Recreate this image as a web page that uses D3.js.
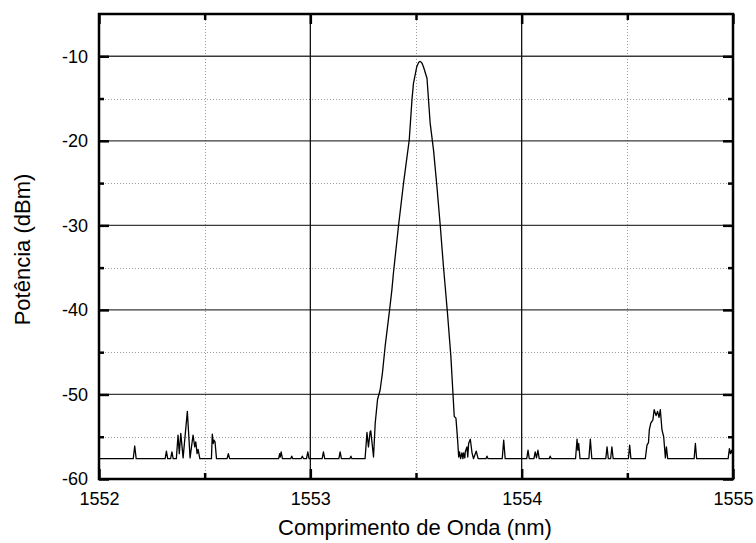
<!DOCTYPE html>
<html>
<head>
<meta charset="utf-8">
<script src="https://cdn.jsdelivr.net/npm/d3@7"></script>
<style>
  html, body { margin: 0; padding: 0; background: #fff; }
  svg { display: block; font-family: "Liberation Sans", Arial, sans-serif; }
</style>
</head>
<body>
<svg id="chart" width="756" height="543"></svg>
<script>
// ---- Data ----
const xTickValues = [1552, 1553, 1554, 1555];
const xMinorTicks = [1552.5, 1553.5, 1554.5];
const yTickValues = [-60, -50, -40, -30, -20, -10];
const yMinorTicks = [-55, -45, -35, -25, -15];
const xLabel = "Comprimento de Onda (nm)";
const yLabel = "Potência (dBm)";

const wavelength = [
  1552.000, 1552.162, 1552.169, 1552.176,
  1552.313, 1552.319, 1552.325, 1552.339, 1552.345, 1552.351,
  1552.366, 1552.374, 1552.380, 1552.387, 1552.398, 1552.418, 1552.431, 1552.445, 1552.453, 1552.458, 1552.464, 1552.469, 1552.477,
  1552.532, 1552.536, 1552.541, 1552.544, 1552.549, 1552.556,
  1552.606, 1552.612, 1552.618,
  1552.850, 1552.855, 1552.858, 1552.862, 1552.868,
  1552.907, 1552.912, 1552.917,
  1552.956, 1552.962, 1552.968, 1552.982, 1552.988, 1552.994,
  1553.056, 1553.062, 1553.068,
  1553.135, 1553.141, 1553.147,
  1553.187, 1553.192, 1553.197,
  1553.259, 1553.268, 1553.275, 1553.283, 1553.286, 1553.299,
  1553.307, 1553.318, 1553.330, 1553.341, 1553.354, 1553.375, 1553.386, 1553.393, 1553.417, 1553.441,
  1553.468, 1553.481, 1553.488, 1553.504, 1553.513, 1553.520, 1553.528, 1553.536, 1553.552, 1553.567,
  1553.583, 1553.599, 1553.615, 1553.630, 1553.649, 1553.665, 1553.681, 1553.689, 1553.697, 1553.702,
  1553.706, 1553.711, 1553.717, 1553.722, 1553.725, 1553.731, 1553.733, 1553.741, 1553.745, 1553.749,
  1553.757, 1553.765, 1553.772, 1553.785, 1553.794,
  1553.831, 1553.836, 1553.841,
  1553.908, 1553.915, 1553.922,
  1554.024, 1554.030, 1554.036,
  1554.058, 1554.064, 1554.070, 1554.077, 1554.083,
  1554.130, 1554.135, 1554.140,
  1554.255, 1554.262, 1554.266, 1554.270, 1554.276,
  1554.318, 1554.325, 1554.332,
  1554.398, 1554.404, 1554.410, 1554.421, 1554.427, 1554.433,
  1554.505, 1554.511, 1554.517,
  1554.585, 1554.593, 1554.600, 1554.604, 1554.611, 1554.621, 1554.627, 1554.636, 1554.643, 1554.650,
  1554.656, 1554.664, 1554.672, 1554.680, 1554.685, 1554.691,
  1554.816, 1554.822, 1554.828,
  1554.977, 1554.983, 1554.988, 1554.993, 1555.000
];
const power = [
  -57.6, -57.6, -56.1, -57.6,
  -57.6, -56.7, -57.6, -57.6, -56.8, -57.6,
  -57.6, -54.8, -57.0, -54.6, -57.5, -52.0, -57.5, -54.8, -56.2, -55.6, -57.0, -56.5, -57.6,
  -57.6, -54.7, -55.8, -55.4, -55.6, -57.6,
  -57.6, -57.0, -57.6,
  -57.6, -57.0, -57.4, -56.8, -57.6,
  -57.6, -57.3, -57.6,
  -57.6, -57.3, -57.6, -57.6, -56.8, -57.6,
  -57.6, -56.8, -57.6,
  -57.6, -56.8, -57.6,
  -57.6, -57.3, -57.6,
  -57.6, -54.5, -56.2, -54.4, -54.3, -57.4,
  -53.4, -50.6, -49.5, -47.5, -44.3, -40.0, -37.6, -35.7, -30.1, -25.0,
  -19.9, -15.1, -13.2, -11.2, -10.7, -10.6, -10.8, -11.3, -12.6, -17.9,
  -21.1, -25.4, -30.1, -34.9, -40.4, -45.5, -52.6, -52.8, -55.4, -57.4,
  -56.8, -57.6, -56.9, -57.6, -56.9, -57.5, -56.8, -56.2, -57.4, -55.8,
  -55.3, -56.9, -57.6, -56.7, -57.6,
  -57.6, -57.3, -57.6,
  -57.6, -55.4, -57.6,
  -57.6, -56.6, -57.6,
  -57.6, -56.8, -57.5, -56.6, -57.6,
  -57.6, -57.3, -57.6,
  -57.6, -55.3, -56.6, -55.8, -57.6,
  -57.6, -55.3, -57.6,
  -57.6, -56.2, -57.6, -57.6, -56.2, -57.6,
  -57.6, -56.0, -57.6,
  -57.6, -56.0, -55.7, -54.2, -53.4, -53.0, -51.8, -52.5, -52.0, -52.7,
  -51.8, -54.2, -55.0, -57.5, -56.2, -57.6,
  -57.6, -55.8, -57.6,
  -57.6, -56.4, -57.0, -56.6, -57.2
];

// ---- Layout ----
const svg = d3.select("#chart");
const margin = { left: 99, top: 14, right: 756 - 733, bottom: 543 - 479 };
const W = 756 - margin.left - margin.right;
const H = 543 - margin.top - margin.bottom;

const x = d3.scaleLinear().domain([1552, 1555]).range([0, W]);
const y = d3.scaleLinear().domain([-60, -5]).range([H, 0]);

const g = svg.append("g").attr("transform", `translate(${margin.left},${margin.top})`);

// minor (dotted) grid
g.append("g").selectAll("line").data(yMinorTicks).join("line")
  .attr("x1", 0).attr("x2", W)
  .attr("y1", d => Math.round(y(d)) + 0.5).attr("y2", d => Math.round(y(d)) + 0.5)
  .attr("stroke", "#9a9a9a").attr("stroke-width", 1).attr("stroke-dasharray", "1,2");
g.append("g").selectAll("line").data(xMinorTicks).join("line")
  .attr("y1", 0).attr("y2", H)
  .attr("x1", d => Math.round(x(d)) + 0.5).attr("x2", d => Math.round(x(d)) + 0.5)
  .attr("stroke", "#9a9a9a").attr("stroke-width", 1).attr("stroke-dasharray", "1,2");

// major (solid) grid
g.append("g").selectAll("line").data(yTickValues.filter(d => d > -60)).join("line")
  .attr("x1", 0).attr("x2", W)
  .attr("y1", d => y(d)).attr("y2", d => y(d))
  .attr("stroke", "#3a3a3a").attr("stroke-width", 1.3);
g.append("g").selectAll("line").data(xTickValues.filter(d => d > 1552 && d < 1555)).join("line")
  .attr("y1", 0).attr("y2", H)
  .attr("x1", d => x(d)).attr("x2", d => x(d))
  .attr("stroke", "#111").attr("stroke-width", 1.3);

// spectrum trace
const line = d3.line().x((d, i) => x(wavelength[i])).y(d => y(d));
g.append("path").datum(power)
  .attr("fill", "none").attr("stroke", "#000").attr("stroke-width", 1.3)
  .attr("stroke-linejoin", "round")
  .attr("d", line);

// axes with inward ticks
const fmt = d => String(d);
const axB = g.append("g").attr("transform", `translate(0,${H})`)
  .call(d3.axisBottom(x).tickValues(xTickValues).tickFormat(fmt).tickSize(-10).tickPadding(13));
const axBm = g.append("g").attr("transform", `translate(0,${H})`)
  .call(d3.axisBottom(x).tickValues(xMinorTicks).tickFormat("").tickSize(-6));
const axT = g.append("g")
  .call(d3.axisTop(x).tickValues(xTickValues).tickFormat("").tickSize(-10));
const axTm = g.append("g")
  .call(d3.axisTop(x).tickValues(xMinorTicks).tickFormat("").tickSize(-6));
const axL = g.append("g")
  .call(d3.axisLeft(y).tickValues(yTickValues).tickFormat(fmt).tickSize(-10).tickPadding(11));
const axLm = g.append("g")
  .call(d3.axisLeft(y).tickValues(yMinorTicks).tickFormat("").tickSize(-5));
const axR = g.append("g").attr("transform", `translate(${W},0)`)
  .call(d3.axisRight(y).tickValues(yTickValues).tickFormat("").tickSize(-10));
const axRm = g.append("g").attr("transform", `translate(${W},0)`)
  .call(d3.axisRight(y).tickValues(yMinorTicks).tickFormat("").tickSize(-5));

[axB, axBm, axT, axTm, axL, axLm, axR, axRm].forEach(a => {
  a.select(".domain").remove();
  a.selectAll(".tick line").attr("stroke", "#000").attr("stroke-width", 2.5);
  a.selectAll("text").attr("font-size", "18px").attr("font-family", "Liberation Sans, Arial, sans-serif").attr("fill", "#000");
});

// frame
svg.append("rect")
  .attr("x", margin.left).attr("y", margin.top).attr("width", W).attr("height", H)
  .attr("fill", "none").attr("stroke", "#000").attr("stroke-width", 2.5);

// axis titles
svg.append("text")
  .attr("x", 415).attr("y", 535)
  .attr("text-anchor", "middle").attr("font-size", "22px").attr("fill", "#000")
  .text(xLabel);
svg.append("text")
  .attr("transform", `translate(30,${margin.top + H / 2 + 3}) rotate(-90)`)
  .attr("text-anchor", "middle").attr("font-size", "22px").attr("fill", "#000")
  .text(yLabel);
</script>
</body>
</html>
